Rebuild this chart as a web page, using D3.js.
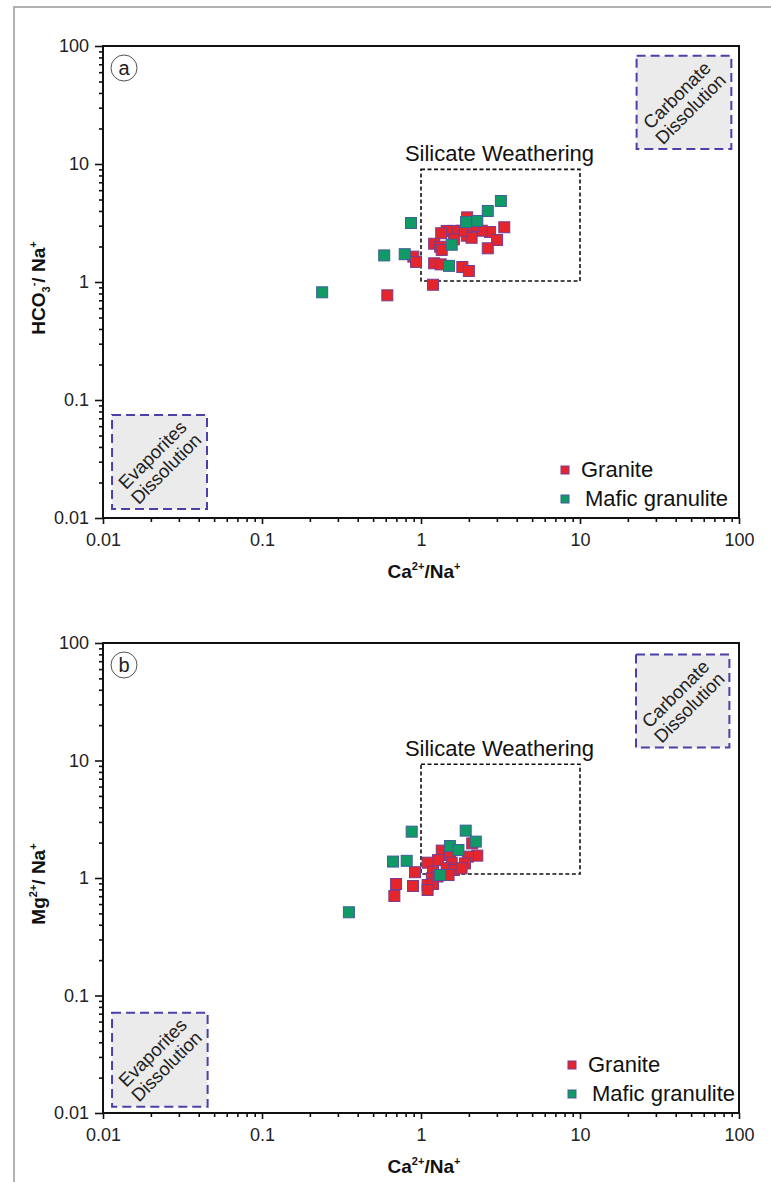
<!DOCTYPE html>
<html>
<head>
<meta charset="utf-8">
<script src="https://cdn.jsdelivr.net/npm/d3@7"></script>
<style>
  body { margin: 0; background: #fff; }
  svg { display: block; font-family: "Liberation Sans", Arial, sans-serif; }
  .tick text { font-size: 18px; fill: #222; }
  .lab { font-family: "Liberation Sans Narrow", "Liberation Sans", Arial, sans-serif; font-weight: bold; font-size: 19px; fill: #111; }
</style>
</head>
<body>
<svg width="771" height="1182"></svg>
<script>
// ---- data: panel a, HCO3-/Na+ vs Ca2+/Na+ ----
var graniteA_x = [1.95, 3.34, 2.72, 2.41, 2.13, 1.94, 2.08, 1.80, 1.60, 1.45, 1.34, 1.61, 3.01, 2.63, 1.21, 1.32, 1.35, 0.895, 0.93, 1.21, 1.33, 1.82, 2.0, 1.19, 0.614];
var graniteA_y = [3.53, 2.91, 2.65, 2.72, 2.98, 2.47, 2.37, 2.72, 2.71, 2.71, 2.59, 2.30, 2.27, 1.93, 2.11, 1.99, 1.87, 1.64, 1.48, 1.44, 1.41, 1.34, 1.24, 0.948, 0.771];
var maficA_x = [3.18, 2.63, 0.865, 1.92, 2.26, 1.56, 0.587, 0.79, 1.50, 0.239];
var maficA_y = [4.86, 4.0, 3.16, 3.22, 3.29, 2.07, 1.68, 1.72, 1.37, 0.818];

// ---- data: panel b, Mg2+/Na+ vs Ca2+/Na+ ----
var graniteB_x = [2.10, 2.26, 1.97, 1.35, 1.52, 1.28, 1.10, 1.56, 1.89, 0.917, 1.45, 1.61, 1.19, 1.80, 1.49, 1.17, 0.697, 0.891, 1.10, 1.19, 1.10, 0.68, 1.27];
var graniteB_y = [1.97, 1.55, 1.52, 1.71, 1.57, 1.42, 1.35, 1.35, 1.33, 1.12, 1.21, 1.17, 1.13, 1.21, 1.06, 0.994, 0.889, 0.855, 0.871, 0.889, 0.791, 0.703, 1.03];
var maficB_x = [0.874, 1.91, 2.21, 1.52, 1.72, 0.667, 0.813, 1.32, 0.352];
var maficB_y = [2.48, 2.53, 2.04, 1.87, 1.73, 1.38, 1.40, 1.06, 0.511];

// field boxes [x0, x1, y0, y1] in data units
var evapA = [0.0114, 0.0451, 0.0119, 0.0746];
var carbA = [22.7, 89.5, 13.4, 82.7];
var silA = [1, 10, 1.02, 9.0];
var evapB = [0.0114, 0.0455, 0.0113, 0.0714];
var carbB = [22.5, 87, 12.9, 80];
var silB = [1, 10, 1.08, 9.3];

var tickVals = [0.01, 0.1, 1, 10, 100];
var seriesNames = ["Granite", "Mafic granulite"];
var fills = ["#e4262c", "#0f9a66"];
var strokes = ["#7a3b8e", "#3f5f98"];

var svg = d3.select("svg");

// outer frame
svg.append("path")
    .attr("d", "M14,1182V7H771")
    .attr("fill", "none")
    .attr("stroke", "#999")
    .attr("stroke-width", 1.5);

var minor = [];
[0.01, 0.1, 1, 10].forEach(function (d) {
    for (var k = 2; k <= 9; k++) minor.push(d * k);
});

function fmt(d) { return String(d); }

function panel(o) {
    var x = d3.scaleLog().domain([0.01, 100]).range([o.left, o.right]);
    var y = d3.scaleLog().domain([0.01, 100]).range([o.bottom, o.top]);
    var g = svg.append("g");

    // field boxes
    [o.evap, o.carb].forEach(function (b) {
        g.append("rect")
            .attr("x", x(b[0])).attr("y", y(b[3]))
            .attr("width", x(b[1]) - x(b[0])).attr("height", y(b[2]) - y(b[3]))
            .attr("fill", "#ebebeb")
            .attr("stroke", "#4a40a8")
            .attr("stroke-width", 2)
            .attr("stroke-dasharray", "9,5");
    });
    var boxText = [[o.evap, "Evaporites", "Dissolution"], [o.carb, "Carbonate", "Dissolution"]];
    boxText.forEach(function (t) {
        var b = t[0];
        var cx = (x(b[0]) + x(b[1])) / 2, cy = (y(b[2]) + y(b[3])) / 2;
        var tx = g.append("text")
            .attr("transform", "translate(" + cx + "," + cy + ") rotate(-45)")
            .attr("text-anchor", "middle")
            .style("font-size", "18.5px").attr("fill", "#222");
        tx.append("tspan").attr("x", 0).attr("dy", "-0.2em").text(t[1]);
        tx.append("tspan").attr("x", 0).attr("dy", "1.05em").text(t[2]);
    });

    g.append("rect")
        .attr("x", x(o.sil[0])).attr("y", y(o.sil[3]))
        .attr("width", x(o.sil[1]) - x(o.sil[0])).attr("height", y(o.sil[2]) - y(o.sil[3]))
        .attr("fill", "none")
        .attr("stroke", "#111")
        .attr("stroke-width", 1.6)
        .attr("stroke-dasharray", "4,2.5");
    g.append("text")
        .attr("x", (x(o.sil[0]) + x(o.sil[1])) / 2 - 1)
        .attr("y", y(o.sil[3]) - 8)
        .attr("text-anchor", "middle")
        .style("font-size", "22px").attr("fill", "#111")
        .text("Silicate Weathering");

    // points
    var sets = [[o.gx, o.gy, 0], [o.mx, o.my, 1]];
    sets.forEach(function (s) {
        g.append("g").selectAll("rect")
            .data(s[0].map(function (v, i) { return [v, s[1][i]]; }))
            .enter().append("rect")
            .attr("x", function (d) { return x(d[0]) - 5.5; })
            .attr("y", function (d) { return y(d[1]) - 5.5; })
            .attr("width", 11).attr("height", 11)
            .attr("fill", fills[s[2]])
            .attr("stroke", strokes[s[2]])
            .attr("stroke-width", 1);
    });

    // axes
    var xa = g.append("g").attr("transform", "translate(0," + o.bottom + ")")
        .call(d3.axisBottom(x).tickValues(tickVals).tickFormat(fmt).tickSize(6).tickPadding(9));
    var xm = g.append("g").attr("transform", "translate(0," + o.bottom + ")")
        .call(d3.axisBottom(x).tickValues(minor).tickFormat("").tickSize(4));
    var ya = g.append("g").attr("transform", "translate(" + o.left + ",0)")
        .call(d3.axisLeft(y).tickValues(tickVals).tickFormat(fmt).tickSize(8).tickPadding(6));
    var ym = g.append("g").attr("transform", "translate(" + o.left + ",0)")
        .call(d3.axisLeft(y).tickValues(minor).tickFormat("").tickSize(4));
    [xa, xm, ya, ym].forEach(function (a) {
        a.select(".domain").remove();
        a.selectAll(".tick line").attr("stroke", "#111").attr("stroke-width", 1.6);
    });
    xa.selectAll(".tick text").attr("dy", "0.71em");
    g.append("rect")
        .attr("x", o.left).attr("y", o.top)
        .attr("width", o.right - o.left).attr("height", o.bottom - o.top)
        .attr("fill", "none").attr("stroke", "#111").attr("stroke-width", 2);

    // panel letter
    g.append("circle").attr("cx", o.left + 21).attr("cy", o.top + 22).attr("r", 13)
        .attr("fill", "none").attr("stroke", "#555").attr("stroke-width", 1);
    g.append("text").attr("x", o.left + 21).attr("y", o.top + 29)
        .attr("text-anchor", "middle").style("font-size", "20px").attr("fill", "#222")
        .text(o.letter);

    // legend
    seriesNames.forEach(function (n, i) {
        var ly = o.legY + i * 29;
        g.append("rect").attr("x", o.legX - 4).attr("y", ly - 4).attr("width", 8).attr("height", 8)
            .attr("fill", fills[i]).attr("stroke", strokes[i]).attr("stroke-width", 1);
        g.append("text").attr("x", o.legX + 16 + (i ? 4 : 0)).attr("y", ly + 7)
            .style("font-size", "22px").attr("fill", "#111").text(n);
    });

    // axis titles
    var xt = g.append("text").attr("class", "lab")
        .attr("x", (o.left + o.right) / 2 + 3).attr("y", o.bottom + 60)
        .attr("text-anchor", "middle");
    xt.append("tspan").text("Ca");
    xt.append("tspan").attr("dy", -8).style("font-size", "11px").text("2+");
    xt.append("tspan").attr("dy", 8).text("/Na");
    xt.append("tspan").attr("dy", -8).style("font-size", "11px").text("+");

    var yt = g.append("text").attr("class", "lab")
        .attr("transform", "translate(" + 45 + "," + ((o.top + o.bottom) / 2 + 6) + ") rotate(-90)")
        .attr("text-anchor", "middle");
    o.ytitle(yt);
}

panel({
    left: 103, right: 739, top: 46, bottom: 518, letter: "a",
    gx: graniteA_x, gy: graniteA_y, mx: maficA_x, my: maficA_y,
    evap: evapA, carb: carbA, sil: silA, legX: 565, legY: 470,
    ytitle: function (t) {
        t.append("tspan").text("HCO");
        t.append("tspan").attr("dy", 5).style("font-size", "11px").text("3");
        t.append("tspan").attr("dy", -13).style("font-size", "11px").text("-");
        t.append("tspan").attr("dy", 8).text("/ Na");
        t.append("tspan").attr("dy", -8).style("font-size", "11px").text("+");
    }
});

panel({
    left: 103, right: 739, top: 643, bottom: 1113, letter: "b",
    gx: graniteB_x, gy: graniteB_y, mx: maficB_x, my: maficB_y,
    evap: evapB, carb: carbB, sil: silB, legX: 572, legY: 1065,
    ytitle: function (t) {
        t.append("tspan").text("Mg");
        t.append("tspan").attr("dy", -8).style("font-size", "11px").text("2+");
        t.append("tspan").attr("dy", 8).text("/ Na");
        t.append("tspan").attr("dy", -8).style("font-size", "11px").text("+");
    }
});
</script>
</body>
</html>
